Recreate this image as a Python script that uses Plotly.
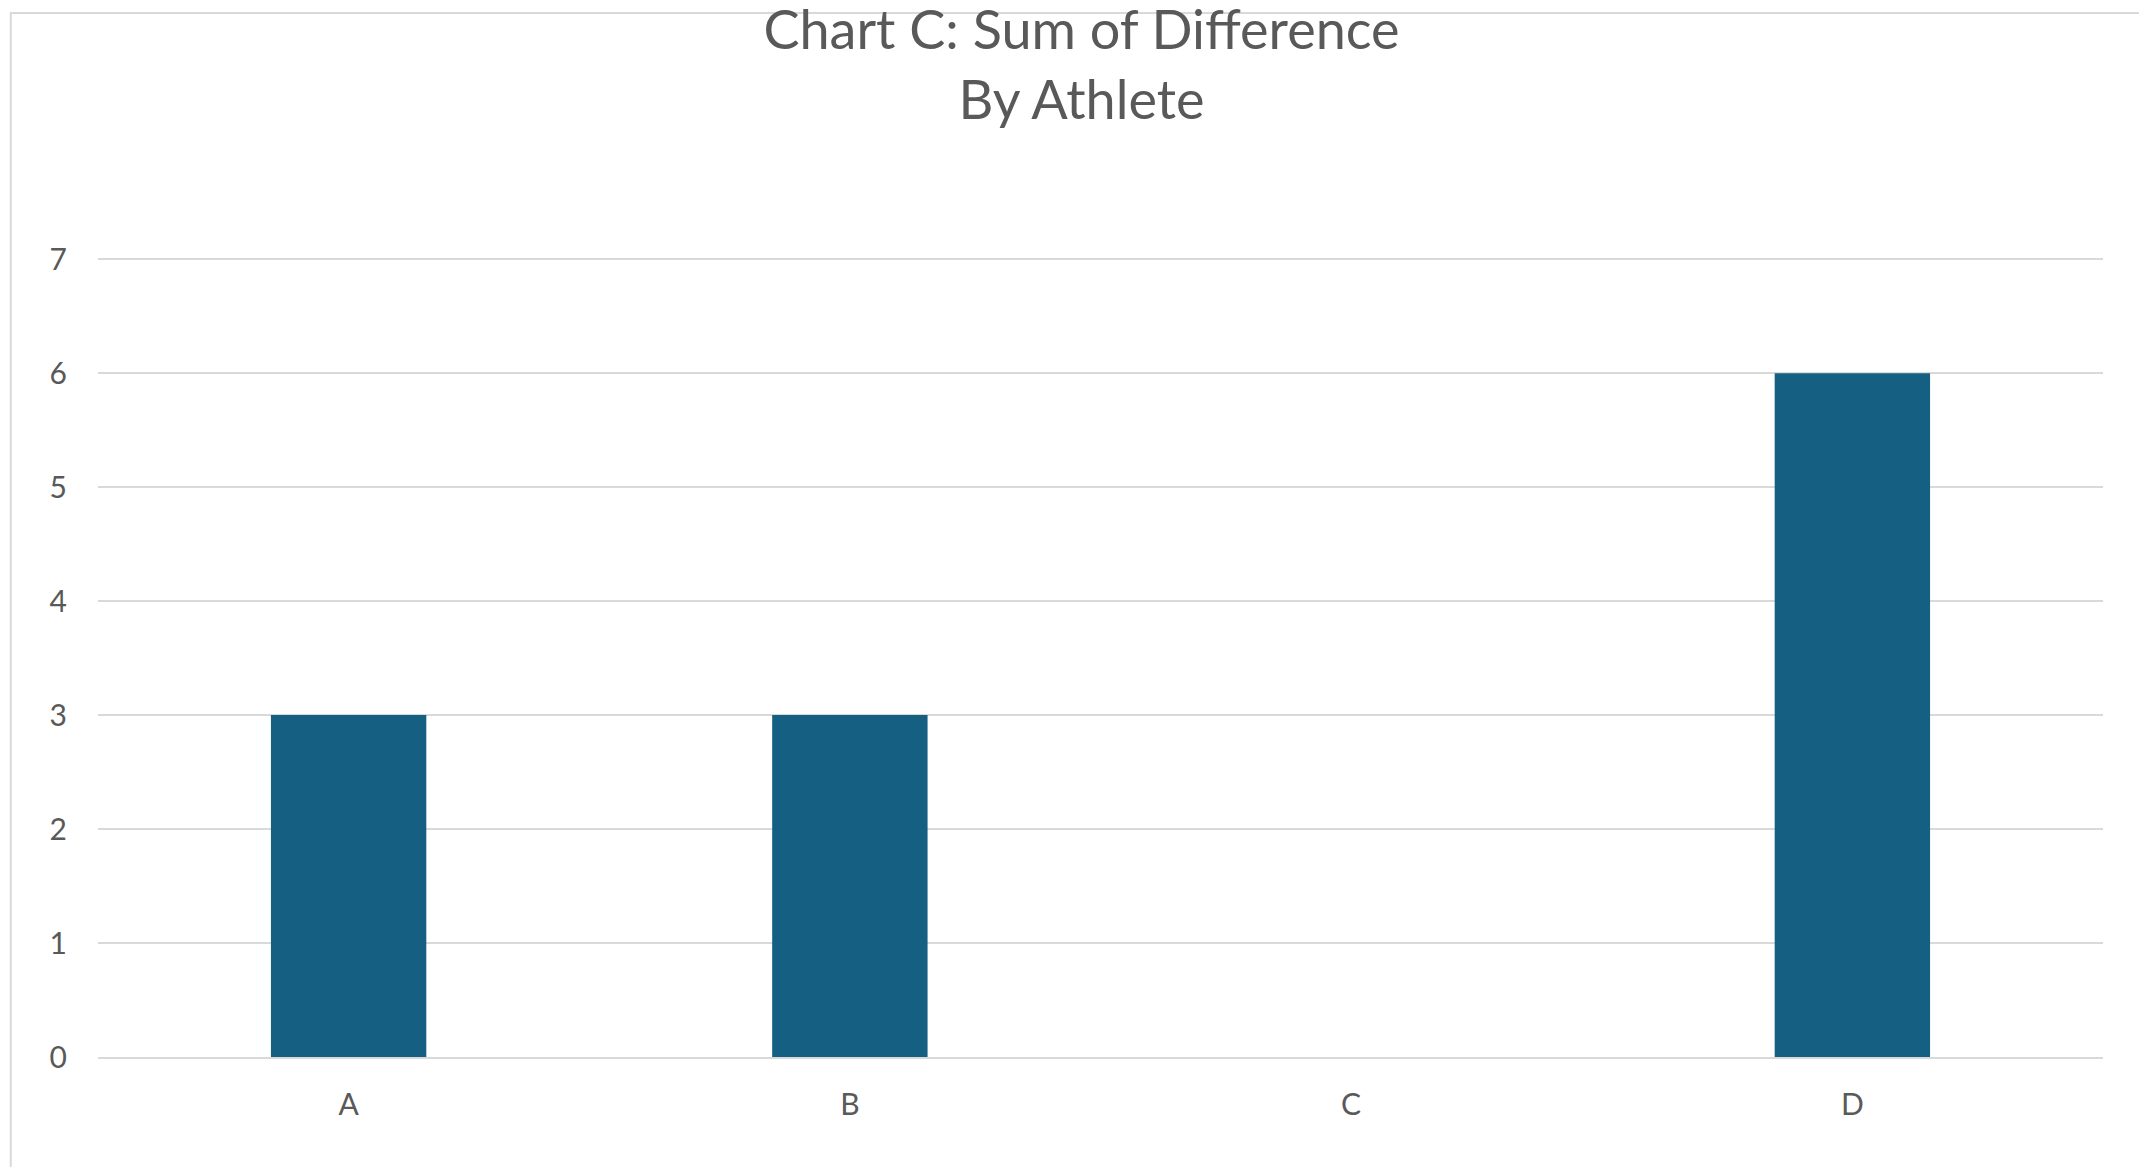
import plotly.graph_objects as go

athletes = ["A", "B", "C", "D"]
diff_sum = [3, 3, 0, 6]

fig = go.Figure(go.Bar(x=athletes, y=diff_sum, marker_color="#156082",
                       marker_line_width=0, width=0.31))

fig.update_layout(
    width=2147, height=1167,
    paper_bgcolor="white", plot_bgcolor="white",
    font=dict(family="Lato", color="#595959", size=30),
    title=dict(text="Chart C: Sum of Difference<br>By Athlete", x=0.5, y=0.965, yanchor="top",
               font=dict(size=54, color="#595959")),
    margin=dict(l=90, r=52, t=249, b=118),
    showlegend=False,
    shapes=[dict(type="rect", xref="paper", yref="paper", x0=-0.0435, x1=1.0245, y0=-0.143, y1=1.305,
                 line=dict(color="#d9d9d9", width=2))],
)
fig.update_yaxes(range=[0, 7.02], tickvals=[0, 1, 2, 3, 4, 5, 6, 7], showgrid=True,
                 gridcolor="#d9d9d9", gridwidth=2, zeroline=False, ticks="",
                 ticklabelstandoff=30, showline=False)
fig.update_xaxes(showline=True, linecolor="#d9d9d9", linewidth=2, ticks="", ticklabelstandoff=20)

fig.write_html("out.html")
